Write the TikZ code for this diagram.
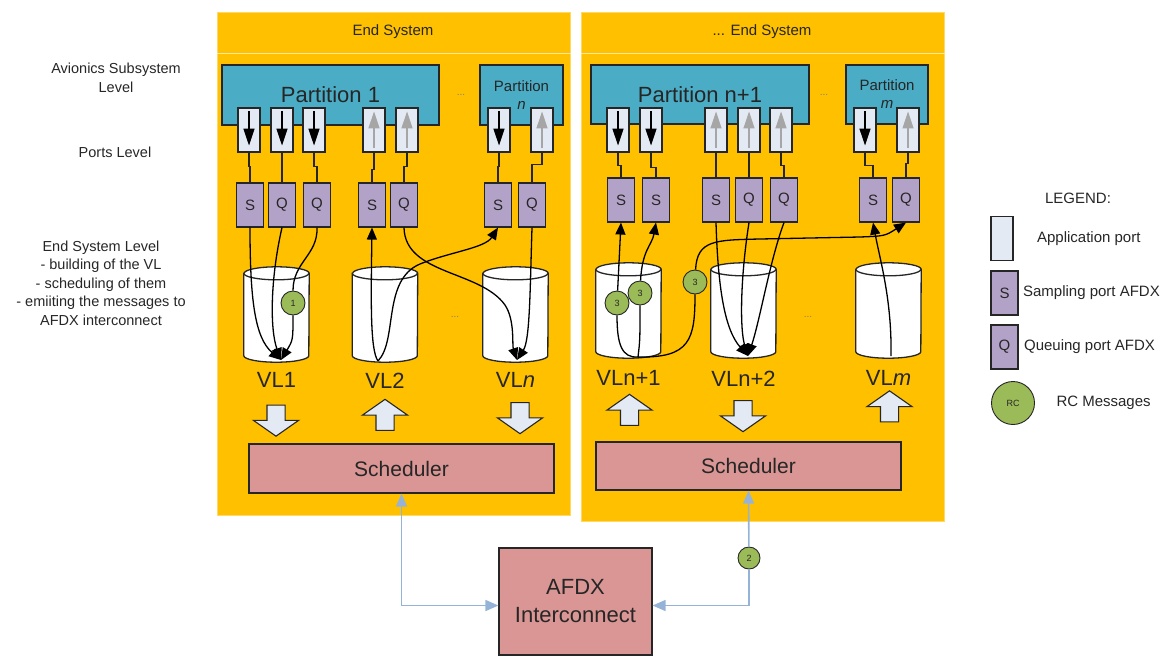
\documentclass[tikz,border=0pt]{standalone}
\usepackage{fontspec}
\setmainfont{Liberation Sans}
\usetikzlibrary{arrows.meta,positioning,shapes.geometric,shapes.arrows}
\definecolor{esorange}{HTML}{FFC000}
\definecolor{esedge}{HTML}{FFD966}
\definecolor{partteal}{HTML}{4BACC6}
\definecolor{portfill}{HTML}{E4EAF4}
\definecolor{sqpurple}{HTML}{B3A2C7}
\definecolor{schedrose}{HTML}{D99694}
\definecolor{rcgreen}{HTML}{9BBB59}
\definecolor{busblue}{HTML}{95B3D7}
\definecolor{inkdark}{HTML}{262626}
\newcommand{\ptsize}[2]{\fontsize{#1}{#2}\selectfont}
% cylinder outline round a virtual link node
\newcommand{\vlcylinder}[1]{%
  \draw[cylline] ([yshift=-6.5pt]#1.north west) -- ([yshift=6.5pt]#1.south west)
    arc[start angle=180,end angle=360,x radius=32.5pt,y radius=6.5pt]
    -- ([yshift=-6.5pt]#1.north east)
    arc[start angle=0,end angle=180,x radius=32.5pt,y radius=6.5pt] -- cycle;
  \draw[cylline] ([yshift=-6.5pt]#1.north west)
    arc[start angle=180,end angle=360,x radius=32.5pt,y radius=6.5pt];}

\begin{document}
\begin{tikzpicture}[
  x=1pt,y=-1pt,
  panel/.style={draw=esedge,fill=esorange,line width=1pt,inner sep=0pt},
  partition/.style={draw=inkdark,fill=partteal,line width=1.2pt,inner sep=0pt,text=inkdark},
  appport/.style={draw=inkdark,fill=portfill,line width=1.1pt,minimum width=22pt,minimum height=44pt,inner sep=0pt},
  vlport/.style={draw=inkdark,fill=sqpurple,line width=1.1pt,minimum width=27pt,minimum height=44pt,inner sep=0pt,font=\ptsize{15}{15},text=inkdark},
  vlink/.style={rectangle,minimum width=65pt,minimum height=95pt,inner sep=0pt},
  cylline/.style={draw=inkdark,fill=white,line width=1.3pt},
  vllabel/.style={font=\ptsize{22}{22},text=inkdark},
  blkdown/.style={single arrow,shape border rotate=270,draw=inkdark,fill=portfill,line width=1.1pt,inner sep=8.5pt,minimum width=44pt,minimum height=31pt,single arrow head extend=13.5pt,single arrow tip angle=110},
  blkup/.style={blkdown,shape border rotate=90},
  sched/.style={draw=inkdark,fill=schedrose,line width=1.2pt,inner sep=0pt,font=\ptsize{21}{28},align=center,text=inkdark},
  rc/.style={circle,draw=inkdark,fill=rcgreen,line width=0.9pt,minimum size=24pt,inner sep=0pt,font=\ptsize{9}{9},text=inkdark},
  msg/.style={draw=black,line width=1.3pt},
  msgarr/.style={msg,-{Triangle[length=12pt,width=10pt]}},
  portdown/.style={draw=black,line width=1.2pt,shorten <=4pt,shorten >=7pt,-{Triangle[length=17pt,width=11pt]}},
  portup/.style={draw=gray!70,line width=1.2pt,shorten <=5pt,shorten >=4pt,-{Triangle[length=17pt,width=11pt]}},
  link/.style={draw=inkdark,line width=1.3pt},
  bus/.style={draw=busblue,line width=1.6pt,-{Triangle[length=13pt,width=11pt]}},
  lvl/.style={font=\ptsize{14.5}{18.5},align=center,text=inkdark},
  small/.style={font=\ptsize{15}{18},align=center,text=inkdark},
  dots/.style={font=\ptsize{10}{10},text=gray}
]
\useasboundingbox (0,0) rectangle (1166,657);

% Level labels
\node[lvl] (lvlavi) at (116,78) {Avionics Subsystem\\Level};
\node[lvl] (lvlport) at (115,152) {Ports Level};
\node[lvl] (lvles) at (101,283) {End System Level\\- building of the VL\\- scheduling of them\\- emiiting the messages to\\AFDX interconnect};

% End systems
\node[panel,minimum width=353pt,minimum height=503pt] (es1) at (393.5,263.5) {};
\node[panel,minimum width=363pt,minimum height=509pt] (es2) at (762.5,266.5) {};
\node[small] (es1t) at (393,32) {End System};
\node[small] (es2t) at (762,32) {... End System};
\draw[esedge!60!white,line width=0.8pt] (es1.west |- 0,53) -- (es1.east |- 0,53);
\draw[esedge!60!white,line width=0.8pt] (es2.west |- 0,53) -- (es2.east |- 0,53);

% Partitions
\node[partition,minimum width=217pt,minimum height=60pt,font=\ptsize{22}{22}] (part1) at (330.5,95) {Partition 1};
\node[partition,minimum width=83pt,minimum height=60pt,font=\ptsize{15}{18},align=center] (partn) at (521.5,95) {Partition\\\textit{n}};
\node[dots] (dots1) at (461,95) {...};
\node[partition,minimum width=218pt,minimum height=59pt,font=\ptsize{22}{22}] (part2) at (700,94.5) {Partition n+1};
\node[partition,minimum width=82pt,minimum height=59pt,font=\ptsize{15}{18},align=center] (partm) at (887,94.5) {Partition\\\textit{m}};
\node[dots] (dots2) at (824,95) {...};

% Application ports
\node[appport] (ap11) at (249,130) {};
\node[appport] (ap12) at (282,130) {};
\node[appport] (ap13) at (314,130) {};
\node[appport] (ap14) at (374,130) {};
\node[appport] (ap15) at (407,130) {};
\node[appport] (ap16) at (499,130) {};
\node[appport] (ap17) at (542,130) {};
\node[appport] (ap21) at (618,130) {};
\node[appport] (ap22) at (651,130) {};
\node[appport] (ap23) at (716,130) {};
\node[appport] (ap24) at (749,130) {};
\node[appport] (ap25) at (781,130) {};
\node[appport] (ap26) at (865,130) {};
\node[appport] (ap27) at (908,130) {};

\draw[portdown] (ap11.north) -- (ap11.south);
\draw[portdown] (ap12.north) -- (ap12.south);
\draw[portdown] (ap13.north) -- (ap13.south);
\draw[portup] (ap14.south) -- (ap14.north);
\draw[portup] (ap15.south) -- (ap15.north);
\draw[portdown] (ap16.north) -- (ap16.south);
\draw[portup] (ap17.south) -- (ap17.north);
\draw[portdown] (ap21.north) -- (ap21.south);
\draw[portdown] (ap22.north) -- (ap22.south);
\draw[portup] (ap23.south) -- (ap23.north);
\draw[portup] (ap24.south) -- (ap24.north);
\draw[portup] (ap25.south) -- (ap25.north);
\draw[portdown] (ap26.north) -- (ap26.south);
\draw[portup] (ap27.south) -- (ap27.north);

% AFDX ports
\node[vlport] (s11) at (250,205) {S};
\node[vlport] (q12) at (282,205) {Q};
\node[vlport] (q13) at (317,205) {Q};
\node[vlport] (s14) at (372,205) {S};
\node[vlport] (q15) at (404,205) {Q};
\node[vlport] (s16) at (498,205) {S};
\node[vlport] (q17) at (532,205) {Q};
\node[vlport] (s21) at (621,200) {S};
\node[vlport] (s22) at (656,200) {S};
\node[vlport] (s23) at (716,200) {S};
\node[vlport] (q24) at (749,200) {Q};
\node[vlport] (q25) at (784,200) {Q};
\node[vlport] (s26) at (873,200) {S};
\node[vlport] (q27) at (906,200) {Q};

\draw[link] (ap11.south) -- ++(0,14) -| (s11.north);
\draw[link] (ap12.south) -- ++(0,14) -| (q12.north);
\draw[link] (ap13.south) -- ++(0,14) -| (q13.north);
\draw[link] (ap14.south) -- ++(0,17) -| (s14.north);
\draw[link] (ap15.south) -- ++(0,14) -| (q15.north);
\draw[link] (ap16.south) -- ++(0,14) -| (s16.north);
\draw[link] (ap17.south) -- ++(0,12) -| (q17.north);
\draw[link] (ap21.south) -- ++(0,13) -| (s21.north);
\draw[link] (ap22.south) -- ++(0,15) -| (s22.north);
\draw[link] (ap23.south) -- ++(0,13) -| (s23.north);
\draw[link] (ap24.south) -- ++(0,13) -| (q24.north);
\draw[link] (ap25.south) -- ++(0,13) -| (q25.north);
\draw[link] (ap26.south) -- ++(0,13) -| (s26.north);
\draw[link] (ap27.south) -- ++(0,11) -| (q27.north);

% Virtual links
\node[vlink] (vl1) at (276.5,314.5) {};
\node[vlink] (vl2) at (385,314.5) {};
\node[vlink] (vln) at (515.5,314.5) {};
\node[vlink] (vln1) at (628.5,310.5) {};
\node[vlink] (vln2) at (743.5,310.5) {};
\node[vlink] (vlm) at (888.5,310.5) {};
\vlcylinder{vl1}
\vlcylinder{vl2}
\vlcylinder{vln}
\vlcylinder{vln1}
\vlcylinder{vln2}
\vlcylinder{vlm}
\node[dots] (dots3) at (455,317) {...};
\node[dots] (dots4) at (808,317) {...};

\node[vllabel,below=7pt of vl1] (vl1t) {VL1};
\node[vllabel,below=7pt of vl2] (vl2t) {VL2};
\node[vllabel,below=7pt of vln] (vlnt) {VL\textit{n}};
\node[vllabel,below=9pt of vln1] (vln1t) {VLn+1};
\node[vllabel,below=9pt of vln2] (vln2t) {VLn+2};
\node[vllabel,below=9pt of vlm] (vlmt) {VL\textit{m}};

\coordinate (vl1in) at (281,360);
\coordinate (vl2out) at (378,361);
\coordinate (vlnin) at (517,360);
\coordinate (vln1out) at (638,357);
\coordinate (vln2in) at (748,356);
\coordinate (vlmout) at (891,356);

% RC messages
\node[rc] (m1) at (293,303) {1};
\node[rc] (m3a) at (617,303) {3};
\node[rc] (m3b) at (640,293) {3};
\node[rc] (m3c) at (695,282) {3};

% Messages, first end system
\draw[msgarr] (s11.south) .. controls (250,300) and (255,338) .. (vl1in);
\draw[msgarr] (q12.south) .. controls (270,280) and (270,330) .. (vl1in);
\draw[msg] (q13.south) .. controls (318,255) and (293,262) .. (m1);
\draw[msgarr] (m1) .. controls (293,340) .. (vl1in);
\draw[msgarr] (vl2out) .. controls (370,350) and (371,300) .. (s14.south);
\draw[msgarr] (vl2out) .. controls (398,340) and (382,280) .. (420,264) .. controls (450,252) and (485,248) .. (s16.south);
\draw[msgarr] (q15.south) .. controls (405,275) and (480,270) .. (505,305) .. controls (515,320) and (512,345) .. (vlnin);
\draw[msgarr] (q17.south) .. controls (530,290) and (530,340) .. (vlnin);

% Messages, second end system
\draw[msg] (vln1out) .. controls (622,358) and (617,345) .. (m3a);
\draw[msgarr] (m3a) -- (s21.south);
\draw[msg] (vln1out) .. controls (640,340) .. (m3b);
\draw[msgarr] (m3b) .. controls (642,250) and (652,245) .. (s22.south);
\draw[msg] (vln1out) .. controls (690,358) and (695,340) .. (m3c);
\draw[msgarr] (m3c) .. controls (697,240) and (715,240) .. (760,239) -- (860,237) .. controls (885,236) .. (q27.south);
\draw[msgarr] (s23.south) .. controls (718,290) and (725,330) .. (vln2in);
\draw[msgarr] (q24.south) .. controls (740,280) and (740,330) .. (vln2in);
\draw[msgarr] (q25.south) .. controls (770,260) and (760,320) .. (vln2in);
\draw[msgarr] (vlmout) .. controls (892,300) and (880,260) .. (s26.south);

% Transfer to scheduler
\node[blkdown] (bd1) at (276,417.5) {};
\node[blkup] (bu2) at (385,418) {};
\node[blkdown] (bd3) at (520,415) {};
\node[blkup] (bu4) at (629.5,413) {};
\node[blkdown] (bd5) at (743,413) {};
\node[blkup] (bu6) at (889.5,409.5) {};

% Schedulers and interconnect
\node[sched,minimum width=305pt,minimum height=49pt] (sch1) at (401.5,468.5) {Scheduler};
\node[sched,minimum width=305pt,minimum height=48pt] (sch2) at (748.5,466) {Scheduler};
\node[sched,minimum width=153pt,minimum height=107pt,font=\ptsize{22}{28}] (afdx) at (575.5,601.5) {AFDX\\Interconnect};
\node[rc,minimum size=22pt] (m2) at (749,558) {2};

\draw[bus,{Triangle[length=13pt,width=11pt]}-{Triangle[length=13pt,width=11pt]}] (sch1.south) |- ([yshift=-4pt]afdx.west);
\draw[bus] (m2) -- (sch2.south);
\draw[bus] (m2) |- ([yshift=-4pt]afdx.east);

% Legend
\node[small] (legt) at (1078,198) {LEGEND:};
\node[appport] (lgapp) at (1002,238.5) {};
\node[small,right=20pt of lgapp] (lgappt) {Application port};
\node[vlport] (lgs) at (1004.5,293) {S};
\node[small,right=1pt of lgs] (lgst) {Sampling port AFDX};
\node[vlport] (lgq) at (1004.5,347) {Q};
\node[small,right=2pt of lgq] (lgqt) {Queuing port AFDX};
\node[rc,minimum size=43pt] (lgrc) at (1013,403) {RC};
\node[small,right=18pt of lgrc] (lgrct) {RC Messages};

\end{tikzpicture}
\end{document}
